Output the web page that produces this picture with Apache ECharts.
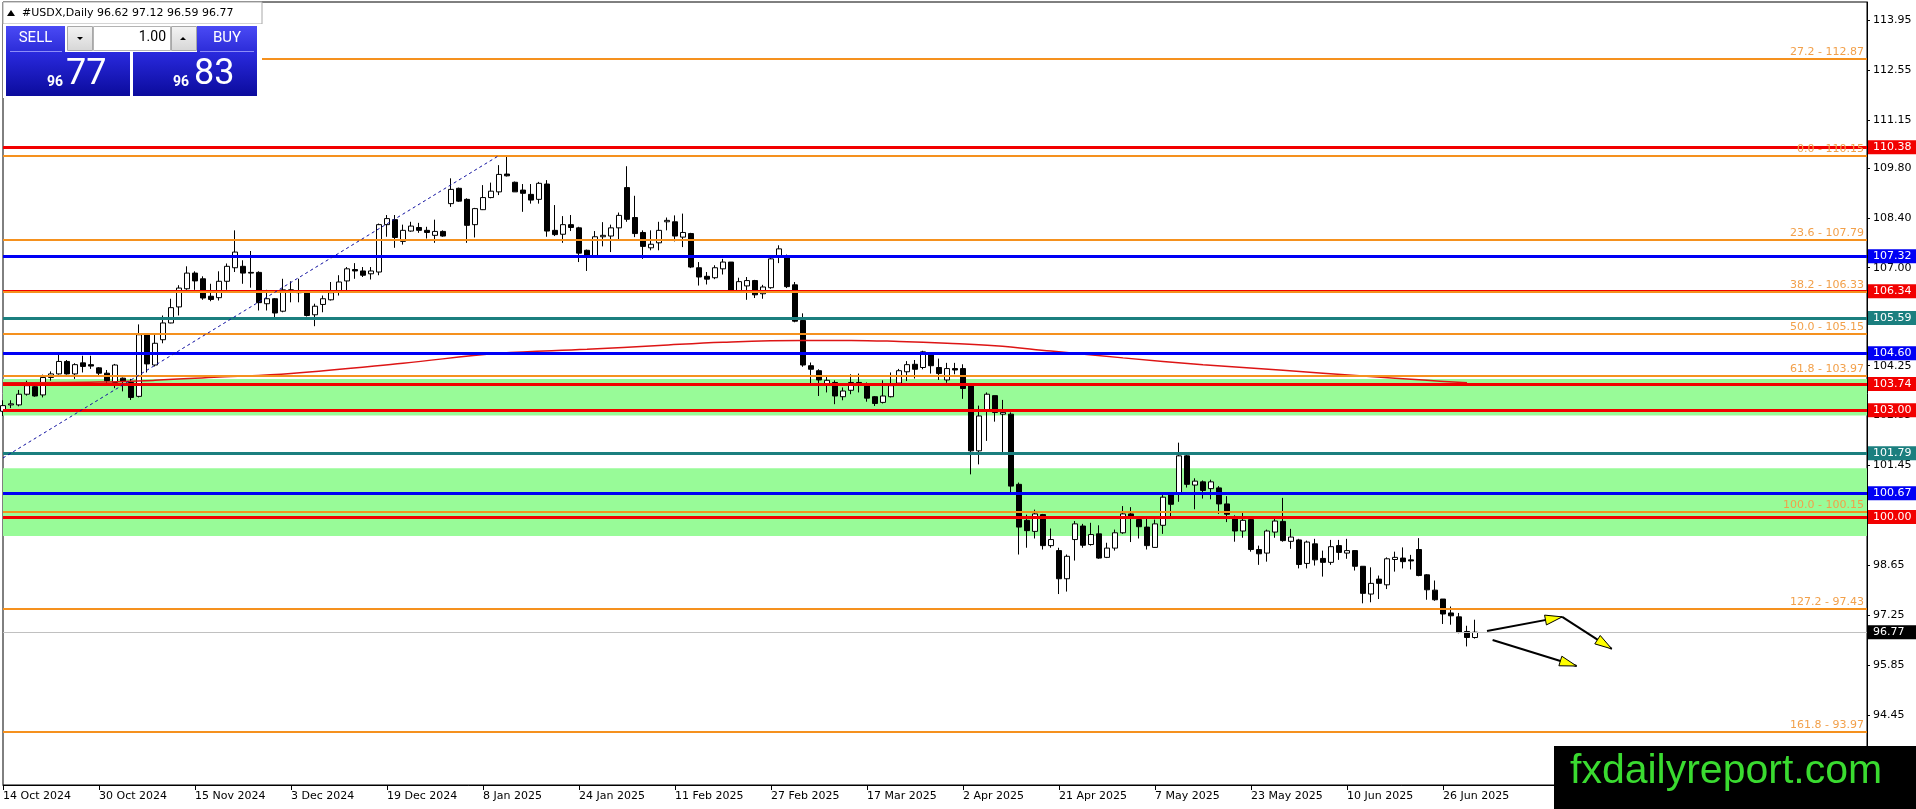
<!DOCTYPE html>
<html><head><meta charset="utf-8">
<script src="https://cdn.jsdelivr.net/npm/echarts@6/dist/echarts.min.js"></script>
<style>html,body{margin:0;padding:0;background:#fff;overflow:hidden}#c{width:1916px;height:809px}</style>
</head><body><div id="c"></div>
<script>
const dates = [
'14 Oct 2024','15 Oct 2024','16 Oct 2024','17 Oct 2024','18 Oct 2024','21 Oct 2024','22 Oct 2024','23 Oct 2024','24 Oct 2024','25 Oct 2024',
'28 Oct 2024','29 Oct 2024','30 Oct 2024','31 Oct 2024','1 Nov 2024','4 Nov 2024','5 Nov 2024','6 Nov 2024','7 Nov 2024','8 Nov 2024',
'11 Nov 2024','12 Nov 2024','13 Nov 2024','14 Nov 2024','15 Nov 2024','18 Nov 2024','19 Nov 2024','20 Nov 2024','21 Nov 2024','22 Nov 2024',
'25 Nov 2024','26 Nov 2024','27 Nov 2024','28 Nov 2024','29 Nov 2024','2 Dec 2024','3 Dec 2024','4 Dec 2024','5 Dec 2024','6 Dec 2024',
'9 Dec 2024','10 Dec 2024','11 Dec 2024','12 Dec 2024','13 Dec 2024','16 Dec 2024','17 Dec 2024','18 Dec 2024','19 Dec 2024','20 Dec 2024',
'23 Dec 2024','24 Dec 2024','26 Dec 2024','27 Dec 2024','30 Dec 2024','31 Dec 2024','2 Jan 2025','3 Jan 2025','6 Jan 2025','7 Jan 2025',
'8 Jan 2025','9 Jan 2025','10 Jan 2025','13 Jan 2025','14 Jan 2025','15 Jan 2025','16 Jan 2025','17 Jan 2025','20 Jan 2025','21 Jan 2025',
'22 Jan 2025','23 Jan 2025','24 Jan 2025','27 Jan 2025','28 Jan 2025','29 Jan 2025','30 Jan 2025','31 Jan 2025','3 Feb 2025','4 Feb 2025',
'5 Feb 2025','6 Feb 2025','7 Feb 2025','10 Feb 2025','11 Feb 2025','12 Feb 2025','13 Feb 2025','14 Feb 2025','17 Feb 2025','18 Feb 2025',
'19 Feb 2025','20 Feb 2025','21 Feb 2025','24 Feb 2025','25 Feb 2025','26 Feb 2025','27 Feb 2025','28 Feb 2025','3 Mar 2025','4 Mar 2025',
'5 Mar 2025','6 Mar 2025','7 Mar 2025','10 Mar 2025','11 Mar 2025','12 Mar 2025','13 Mar 2025','14 Mar 2025','17 Mar 2025','18 Mar 2025',
'19 Mar 2025','20 Mar 2025','21 Mar 2025','24 Mar 2025','25 Mar 2025','26 Mar 2025','27 Mar 2025','28 Mar 2025','31 Mar 2025','1 Apr 2025',
'2 Apr 2025','3 Apr 2025','4 Apr 2025','7 Apr 2025','8 Apr 2025','9 Apr 2025','10 Apr 2025','11 Apr 2025','14 Apr 2025','15 Apr 2025',
'16 Apr 2025','17 Apr 2025','21 Apr 2025','22 Apr 2025','23 Apr 2025','24 Apr 2025','25 Apr 2025','28 Apr 2025','29 Apr 2025','30 Apr 2025',
'1 May 2025','2 May 2025','5 May 2025','6 May 2025','7 May 2025','8 May 2025','9 May 2025','12 May 2025','13 May 2025','14 May 2025',
'15 May 2025','16 May 2025','19 May 2025','20 May 2025','21 May 2025','22 May 2025','23 May 2025','26 May 2025','27 May 2025','28 May 2025',
'29 May 2025','30 May 2025','2 Jun 2025','3 Jun 2025','4 Jun 2025','5 Jun 2025','6 Jun 2025','9 Jun 2025','10 Jun 2025','11 Jun 2025',
'12 Jun 2025','13 Jun 2025','16 Jun 2025','17 Jun 2025','18 Jun 2025','19 Jun 2025','20 Jun 2025','23 Jun 2025','24 Jun 2025','25 Jun 2025',
'26 Jun 2025','27 Jun 2025','30 Jun 2025','1 Jul 2025','2 Jul 2025'
];
const opens = [
102.97,103.15,103.15,103.45,103.66,103.43,103.92,104.02,104.37,104.02,
104.33,104.28,104.19,104.04,103.78,103.90,103.78,103.39,105.12,104.27,
104.98,105.45,105.90,106.41,106.85,106.69,106.20,106.16,106.62,107.00,
107.04,106.87,106.87,105.99,106.13,105.78,106.38,106.32,106.29,105.68,
105.97,106.10,106.34,106.63,106.95,106.91,106.83,106.88,108.21,108.35,
107.74,108.03,108.13,108.05,107.91,108.02,108.80,109.23,108.92,108.21,
108.63,108.97,109.13,109.63,109.40,109.18,109.06,108.92,109.35,108.05,
107.94,108.21,108.12,107.49,107.32,107.87,107.89,108.12,109.25,108.41,
107.99,107.56,107.70,108.29,108.29,107.86,107.96,107.00,106.76,106.72,
106.97,107.16,106.36,106.49,106.64,106.27,106.44,107.32,107.28,106.52,
105.52,104.25,104.11,103.73,103.78,103.38,103.56,103.78,103.69,103.38,
103.22,103.38,103.76,104.08,104.29,104.20,104.57,104.20,103.85,104.17,
104.17,103.68,101.86,102.98,103.41,102.89,102.89,100.92,99.91,99.60,
100.07,99.20,99.06,98.27,99.37,99.75,99.23,99.53,98.87,99.13,
99.56,100.09,99.93,99.72,99.15,99.77,100.64,100.64,101.72,100.90,
100.99,100.80,100.82,100.37,99.97,99.61,99.93,99.09,98.99,99.58,
99.88,99.32,99.36,98.70,99.25,98.84,98.73,99.20,98.99,99.06,
98.62,97.84,98.26,98.10,98.81,98.85,98.80,99.09,98.38,97.95,
97.70,97.31,97.20,96.79,96.62
];
const highs = [
103.28,103.28,103.57,103.83,103.69,104.00,104.09,104.55,104.41,104.32,
104.53,104.53,104.21,104.13,104.30,103.92,103.88,105.41,105.14,105.13,
105.66,106.13,106.51,107.04,106.90,106.76,106.55,106.90,107.12,108.05,
107.21,107.47,106.90,106.38,106.15,106.69,106.62,106.69,106.32,105.99,
106.22,106.60,106.79,107.02,107.13,107.02,107.02,108.24,108.48,108.48,
108.21,108.29,108.26,108.15,108.35,108.05,109.51,109.25,108.95,108.68,
109.32,109.39,109.88,110.14,109.42,109.35,109.35,109.41,109.46,108.76,
108.45,108.48,108.15,107.51,108.03,108.28,108.21,108.55,109.85,109.02,
108.05,108.05,108.29,108.41,108.47,108.52,107.98,107.16,106.88,107.07,
107.25,107.16,106.72,106.74,106.66,106.52,107.28,107.63,107.37,106.60,
105.72,104.34,104.15,103.99,103.84,103.64,104.01,104.03,103.78,103.40,
103.84,104.06,104.16,104.38,104.41,104.67,104.59,104.45,104.33,104.33,
104.29,103.71,103.13,103.50,103.41,103.29,102.94,100.97,100.07,100.21,
100.09,99.68,99.14,98.95,99.89,99.81,99.84,99.77,99.28,99.65,
100.31,100.28,100.03,100.03,99.93,100.68,100.68,102.09,101.75,101.09,
101.03,101.05,100.87,100.59,100.05,100.14,99.95,99.20,99.65,99.95,
100.54,99.67,99.39,99.34,99.39,99.06,99.36,99.36,99.39,99.06,
98.62,98.59,98.36,98.87,99.03,99.15,98.94,99.41,98.40,98.22,
97.70,97.49,97.31,96.95,97.12
];
const lows = [
102.84,103.06,103.11,103.41,103.38,103.36,103.83,104.00,104.00,103.88,
104.06,104.16,103.94,103.75,103.62,103.53,103.29,103.36,104.06,104.23,
104.88,105.44,105.66,106.38,106.38,106.10,106.06,106.08,106.38,106.88,
106.55,106.44,105.80,105.80,105.61,105.75,106.03,106.03,105.63,105.36,
105.75,106.08,106.22,106.36,106.69,106.74,106.67,106.79,107.87,107.56,
107.65,108.01,107.98,107.82,107.70,107.87,108.71,108.85,107.70,107.85,
108.62,108.95,109.04,109.56,109.13,108.57,108.80,108.80,107.87,107.89,
107.70,108.03,107.16,106.91,107.32,107.60,107.44,107.77,108.29,107.86,
107.25,107.49,107.49,108.05,107.74,107.58,106.99,106.50,106.53,106.68,
106.81,106.34,106.33,106.10,106.15,106.13,106.41,107.13,106.43,105.47,
104.22,103.75,103.40,103.50,103.17,103.28,103.45,103.50,103.24,103.12,
103.19,103.36,103.73,103.82,103.89,104.15,104.03,103.85,103.77,104.01,
103.32,101.20,101.48,102.14,102.68,101.81,100.68,98.95,99.14,99.40,
99.09,99.14,97.84,97.91,98.78,99.14,99.20,98.83,98.85,99.06,
99.53,99.30,99.40,99.09,99.14,99.53,100.00,100.43,100.83,100.22,
100.52,100.50,100.09,99.86,99.31,99.42,99.03,98.66,98.75,99.42,
99.31,99.11,98.56,98.56,98.64,98.33,98.66,98.80,98.83,98.50,
97.58,97.61,97.70,97.98,98.47,98.56,98.53,98.34,97.68,97.65,
97.00,96.98,96.74,96.37,96.59
];
const closes = [
103.13,103.18,103.45,103.69,103.40,103.92,104.02,104.37,104.02,104.28,
104.23,104.24,104.04,103.83,104.27,103.82,103.36,105.12,104.30,104.88,
105.45,105.88,106.43,106.85,106.63,106.15,106.11,106.62,107.04,107.44,
106.85,106.85,106.02,106.13,105.73,106.38,106.34,106.30,105.66,105.92,
106.13,106.30,106.60,106.97,106.91,106.79,106.91,108.21,108.38,107.85,
108.05,108.17,108.05,107.99,108.02,107.89,109.20,108.87,108.19,108.66,
108.97,109.15,109.62,109.58,109.13,109.09,108.90,109.37,108.03,107.93,
108.21,108.13,107.41,107.32,107.87,107.91,108.12,108.47,108.36,107.96,
107.60,107.66,108.05,108.33,107.89,107.99,107.02,106.74,106.68,107.00,
107.16,106.36,106.61,106.64,106.24,106.46,107.25,107.53,106.47,105.50,
104.27,104.15,103.85,103.84,103.40,103.54,103.78,103.73,103.34,103.19,
103.40,103.69,104.11,104.28,104.15,104.64,104.25,104.03,104.17,104.13,
103.61,101.86,102.84,103.45,102.94,102.94,100.87,99.72,99.62,100.09,
99.20,99.37,98.27,98.90,99.81,99.21,99.51,98.85,99.13,99.56,
100.09,99.99,99.73,99.20,99.81,100.56,100.36,101.72,100.92,101.01,
100.75,100.99,100.37,100.08,99.61,99.91,99.09,98.97,99.61,99.89,
99.34,99.44,98.67,99.30,98.80,98.73,99.17,99.01,99.06,98.62,
97.86,98.14,98.14,98.83,98.87,98.75,98.77,98.36,97.96,97.68,
97.28,97.23,96.76,96.62,96.77
];
const futureSlots = 49;
const yTicks = [93.05,94.45,95.85,97.25,98.65,100.05,101.45,102.85,104.25,105.60,107.00,108.40,109.80,111.15,112.55,113.95];
const redLevels = [110.38,106.34,103.74,103.00,100.00];
const blueLevels = [107.32,104.60,100.67];
const tealLevels = [105.59,101.79];
const fibRatios = ['27.2','0.0','23.6','38.2','50.0','61.8','100.0','127.2','161.8'];
const fibPrices = [112.87,110.15,107.79,106.33,105.15,103.97,100.15,97.43,93.97];
const zoneTops = [103.88,101.37];
const zoneBottoms = [102.85,99.47];
const lastPrice = 96.77;
const curveIdx = [0,12,19,27,36,50,62,73,82,90,100,106,112,118,124,131,140,150,160,170,178,183];
const curveVal = [103.77,103.79,103.84,103.93,104.03,104.32,104.60,104.71,104.82,104.91,104.96,104.96,104.93,104.88,104.81,104.66,104.47,104.28,104.12,103.96,103.84,103.77];
const trendIdx = [0,62];
const trendVal = [101.66,110.15];
const arrowFromIdx = [185.5,194.9,186.2];
const arrowFromVal = [96.80,97.20,96.55];
const arrowToIdx = [194.9,201.1,196.7];
const arrowToVal = [97.20,96.30,95.82];
const symbolName = '#USDX,Daily';
const headerOHLC = ['96.62','97.12','96.59','96.77'];
const bidParts = ['96','77'];
const askParts = ['96','83'];
const lotSize = '1.00';
const watermark = 'fxdailyreport.com';

const FONT = 'DejaVu Sans';
const nBars = dates.length;
const categories = dates.concat(Array.from({length: futureSlots}, (_, i) => '#f' + i));
const ohlc = opens.map((o, i) => [o, closes[i], lows[i], highs[i]]);
const showIdx = (idx) => idx % 12 === 0 && idx < nBars;

function tagLine(v, color) {
  return {
    yAxis: v,
    lineStyle: {color: color, width: 3, type: 'solid'},
    label: {show: true, position: 'end', distance: 1, formatter: v.toFixed(2), color: '#fff',
      backgroundColor: color, padding: [2, 12, 1, 5], fontFamily: FONT, fontSize: 11}
  };
}
const levelData = []
  .concat(redLevels.map(v => tagLine(v, '#F20000')))
  .concat(blueLevels.map(v => tagLine(v, '#0000F5')))
  .concat(tealLevels.map(v => tagLine(v, '#1B7F7F')));

const fibData = fibPrices.map((p, i) => ({
  yAxis: p,
  lineStyle: {color: '#F5911E', width: 2, type: 'solid'},
  label: {show: true, position: 'insideEndTop', distance: [3, 1], formatter: fibRatios[i] + ' - ' + p.toFixed(2),
    color: '#F2A04A', fontFamily: FONT, fontSize: 11}
}));

const zoneData = zoneTops.map((t, i) => [{yAxis: t}, {yAxis: zoneBottoms[i]}]);

function arrowRender(params, api) {
  const i = params.dataIndex;
  function px(x, y) {
    const f = Math.floor(x), t = x - f;
    const a = api.coord([f, y]);
    const b = api.coord([f + 1, y]);
    return [a[0] + (b[0] - a[0]) * t, a[1]];
  }
  const p1 = px(arrowFromIdx[i], arrowFromVal[i]);
  const p2 = px(arrowToIdx[i], arrowToVal[i]);
  const dx = p2[0] - p1[0], dy = p2[1] - p1[1];
  const len = Math.sqrt(dx * dx + dy * dy);
  const ux = dx / len, uy = dy / len;
  const hl = 17, hw = 5;
  const bx = p2[0] - ux * hl, by = p2[1] - uy * hl;
  return {type: 'group', children: [
    {type: 'line', shape: {x1: p1[0], y1: p1[1], x2: p2[0], y2: p2[1]}, style: {stroke: '#000', lineWidth: 2}},
    {type: 'polygon', shape: {points: [[p2[0], p2[1]], [bx - uy * hw, by + ux * hw], [bx + uy * hw, by - ux * hw]]},
      style: {fill: '#FFFF00', stroke: '#000', lineWidth: 1}}
  ]};
}

function txt(text, x, y, font, fill, align) {
  return {type: 'text', z: 101, silent: true, style: {text: text, x: x, y: y, font: font, fill: fill,
    align: align || 'left', verticalAlign: 'middle', textAlign: align || 'left', textVerticalAlign: 'middle'}};
}
function grad(c1, c2) {
  return new echarts.graphic.LinearGradient(0, 0, 0, 1, [{offset: 0, color: c1}, {offset: 1, color: c2}]);
}
function rect(x, y, w, h, fill, stroke) {
  return {type: 'rect', z: 100, silent: true, shape: {x: x, y: y, width: w, height: h},
    style: {fill: fill, stroke: stroke || null, lineWidth: stroke ? 1 : 0}};
}
function poly(pts, fill) {
  return {type: 'polygon', z: 101, silent: true, shape: {points: pts}, style: {fill: fill}};
}

const graphics = [
  rect(3, 2, 259, 22, '#FFFFFF', '#A8A8A8'),
  poly([[7, 16], [15, 16], [11, 10]], '#000'),
  txt(symbolName, 22, 13.4, '11px "DejaVu Sans"', '#000'),
  txt(headerOHLC.join(' '), 97, 13.4, '11px "DejaVu Sans"', '#000'),
  rect(3, 24, 259, 74, '#FFFFFF', null),
  rect(6, 26, 59, 26, grad('#4A4AF5', '#2C2CD8')),
  rect(197, 26, 60, 26, grad('#4A4AF5', '#2C2CD8')),
  rect(6, 52, 124, 44, grad('#2A2ADE', '#0B0B9C')),
  rect(133, 52, 124, 44, grad('#2A2ADE', '#0B0B9C')),
  {type: 'line', z: 101, silent: true, shape: {x1: 10, y1: 51.5, x2: 62, y2: 51.5}, style: {stroke: '#8C8CF8', lineWidth: 1}},
  {type: 'line', z: 101, silent: true, shape: {x1: 200, y1: 51.5, x2: 254, y2: 51.5}, style: {stroke: '#8C8CF8', lineWidth: 1}},
  rect(67.5, 26.5, 25, 24, grad('#F4F4F4', '#D6D6D6'), '#A8A8A8'),
  rect(93.5, 26.5, 77, 24, '#FFFFFF', '#B4B4B4'),
  rect(171.5, 26.5, 25, 24, grad('#F4F4F4', '#D6D6D6'), '#A8A8A8'),
  poly([[77, 37], [83, 37], [80, 40]], '#000'),
  poly([[180, 40], [186, 40], [183, 37]], '#000'),
  txt('SELL', 35.5, 38.7, '15px Roboto', '#FFFFFF', 'center'),
  txt('BUY', 227, 38.7, '15px Roboto', '#FFFFFF', 'center'),
  txt(lotSize, 166, 37.8, '14px Roboto', '#000000', 'right'),
  txt(bidParts[0], 47, 82, 'bold 14px Roboto', '#FFFFFF'),
  txt(bidParts[1], 66, 74.5, '36px Roboto', '#FFFFFF'),
  txt(askParts[0], 173, 82, 'bold 14px Roboto', '#FFFFFF'),
  txt(askParts[1], 194, 74.5, '36px Roboto', '#FFFFFF'),
  rect(1554, 746, 362, 63, '#000000', null),
  txt(watermark, 1570, 771.5, '41px "Liberation Sans"', '#3ADB30')
];

const chart = echarts.init(document.getElementById('c'));
chart.setOption({
  animation: false,
  backgroundColor: '#FFFFFF',
  grid: {left: 3, right: 49, top: 2, bottom: 24, show: true, borderColor: '#000', borderWidth: 1, backgroundColor: 'transparent'},
  xAxis: {
    type: 'category', data: categories, boundaryGap: false,
    axisLine: {show: true, lineStyle: {color: '#000', width: 1}},
    axisTick: {show: true, length: 5, interval: showIdx, lineStyle: {color: '#000'}},
    axisLabel: {show: true, interval: showIdx, align: 'left', margin: 6, color: '#000', fontFamily: FONT, fontSize: 11,
      formatter: (v) => (v.charAt(0) === '#' ? '' : v)},
    splitLine: {show: false}
  },
  yAxis: {
    type: 'value', position: 'right', min: 92.48, max: 114.46, scale: true,
    axisLine: {show: true, lineStyle: {color: '#000', width: 1}},
    axisTick: {show: true, length: 3, customValues: yTicks, lineStyle: {color: '#000'}},
    axisLabel: {show: true, customValues: yTicks, margin: 6, color: '#000', fontFamily: FONT, fontSize: 11,
      formatter: (v) => Number(v).toFixed(2)},
    splitLine: {show: false}
  },
  series: [
    {
      name: 'zones', type: 'line', data: [], silent: true,
      markArea: {silent: true, z: 1, itemStyle: {color: '#98FB98', opacity: 1}, label: {show: false}, data: zoneData}
    },
    {
      name: 'USDX', type: 'candlestick', data: ohlc, barWidth: 5, z: 2, silent: true,
      itemStyle: {color: '#FFFFFF', color0: '#000000', borderColor: '#000000', borderColor0: '#000000', borderWidth: 1}
    },
    {
      name: 'curve', type: 'line', z: 3, silent: true, symbol: 'none', smooth: 0.4,
      data: curveIdx.map((x, i) => [x, curveVal[i]]),
      lineStyle: {color: '#DD1515', width: 1.5}
    },
    {
      name: 'price', type: 'line', data: [], silent: true,
      markLine: {silent: true, z: 4, symbol: ['none', 'none'], precision: 2, data: [{
        yAxis: lastPrice, lineStyle: {color: '#C0C0C0', width: 1, type: 'solid'},
        label: {show: true, position: 'end', distance: 1, formatter: lastPrice.toFixed(2), color: '#fff',
          backgroundColor: '#000', padding: [2, 12, 1, 5], fontFamily: FONT, fontSize: 11}
      }]}
    },
    {
      name: 'levels', type: 'line', data: [], silent: true,
      markLine: {silent: true, z: 5, symbol: ['none', 'none'], precision: 2, data: levelData}
    },
    {
      name: 'fibs', type: 'line', data: [], silent: true,
      markLine: {silent: true, z: 6, symbol: ['none', 'none'], precision: 2, data: fibData}
    },
    {
      name: 'trend', type: 'line', data: [], silent: true,
      markLine: {silent: true, z: 6, symbol: ['none', 'none'], label: {show: false},
        data: [[{coord: [trendIdx[0], trendVal[0]]}, {coord: [trendIdx[1], trendVal[1]]}]],
        lineStyle: {color: '#1010A0', width: 1, type: [3, 3]}}
    },
    {
      name: 'arrows', type: 'custom', z: 10, silent: true, clip: false,
      data: arrowFromIdx.map((x, i) => [x, arrowFromVal[i], arrowToIdx[i], arrowToVal[i]]),
      encode: {x: [0, 2], y: [1, 3]},
      renderItem: arrowRender
    }
  ],
  graphic: graphics
});
</script>
</body></html>
